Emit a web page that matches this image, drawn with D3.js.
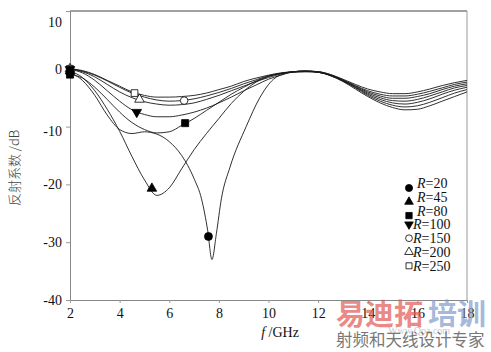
<!DOCTYPE html>
<html lang="zh">
<head>
<meta charset="UTF-8">
<title>反射系数</title>
<script src="https://d3js.org/d3.v7.min.js"></script>
<style>
  body { margin: 0; background: #fff; }
  svg text { font-family: "Liberation Serif", "Times New Roman", serif; }
</style>
</head>
<body>
<svg width="491" height="352"></svg>
<script>
// frequency grid (GHz)
const freq = [2,2.5,3,3.5,4,4.5,5,5.5,6,6.5,7,7.5,8,8.5,9,9.5,10,10.5,11,11.5,12,12.5,13,13.5,14,14.5,15,15.5,16,16.5,17,17.5,18];
// R=20 has a sharp notch, so it gets its own grid
const freq20 = [2,2.5,3,3.5,4,4.5,5,5.5,6,6.5,7,7.3,7.55,7.72,7.9,8.1,8.45,9.1,9.65,10.2,10.7,11,11.5,12,12.5,13,13.5,14,14.5,15,15.5,16,16.5,17,17.5,18];

const r20  = [-0.6,-2.0,-4.6,-8.0,-10.5,-11.2,-10.9,-11.3,-12.6,-15.0,-19.0,-22.5,-28.0,-33.0,-28.5,-22.5,-17.0,-10.0,-5.0,-1.8,-0.8,-0.6,-0.5,-0.6,-1.2,-2.2,-3.5,-4.8,-5.9,-6.7,-7.1,-7.0,-6.4,-5.6,-4.8,-4.0];
const r45  = [-0.4,-1.5,-3.8,-7.0,-10.8,-15.2,-19.2,-21.9,-20.6,-17.3,-14.0,-11.2,-8.6,-6.0,-3.9,-2.3,-1.3,-0.8,-0.6,-0.5,-0.6,-1.2,-2.1,-3.3,-4.6,-5.6,-6.3,-6.6,-6.4,-5.8,-5.0,-4.2,-3.6];
const r80  = [-1.0,-1.6,-3.2,-5.3,-7.5,-9.3,-10.5,-11.1,-10.9,-9.8,-8.6,-7.2,-5.8,-4.4,-3.2,-2.1,-1.3,-0.8,-0.5,-0.4,-0.6,-1.1,-2.1,-3.2,-4.4,-5.3,-5.9,-6.1,-5.8,-5.2,-4.4,-3.7,-3.2];
const r100 = [-0.1,-0.7,-2.0,-3.8,-5.6,-7.1,-7.9,-8.3,-8.3,-8.0,-7.5,-6.8,-5.9,-4.9,-3.8,-2.8,-1.8,-1.1,-0.5,-0.4,-0.6,-1.1,-2.0,-3.1,-4.2,-5.0,-5.5,-5.6,-5.3,-4.7,-4.0,-3.3,-2.9];
const r150 = [0,-0.4,-1.1,-2.1,-3.2,-4.2,-4.9,-5.4,-5.6,-5.5,-5.2,-4.7,-4.1,-3.4,-2.6,-1.9,-1.2,-0.8,-0.5,-0.4,-0.5,-1.0,-1.9,-2.9,-3.8,-4.4,-4.7,-4.7,-4.4,-3.9,-3.3,-2.7,-2.3];
const r200 = [0,-0.5,-1.4,-2.7,-4.0,-5.0,-5.7,-6.1,-6.3,-6.2,-5.9,-5.3,-4.6,-3.8,-3.0,-2.2,-1.5,-0.9,-0.5,-0.4,-0.5,-1.1,-2.0,-3.0,-4.0,-4.7,-5.1,-5.1,-4.8,-4.3,-3.6,-3.0,-2.6];
const r250 = [0,-0.3,-1.0,-2.0,-3.0,-4.0,-4.6,-4.9,-4.9,-4.8,-4.6,-4.2,-3.6,-3.0,-2.2,-1.6,-1.1,-0.7,-0.5,-0.4,-0.5,-1.0,-1.8,-2.7,-3.5,-4.0,-4.3,-4.3,-4.0,-3.5,-2.9,-2.4,-2.0];

const labels = ["20","45","80","100","150","200","250"];
// mid-curve marker positions
const markF  = [7.58, 5.3, 6.64, 4.69, 6.6, 4.8, 4.6];
const markDb = [-29, -20.7, -9.4, -7.5, -5.5, -5.3, -4.2];

const xTicks = [2,4,6,8,10,12,14,16,18];
const yTicks = [10,0,-10,-20,-30,-40];

const series = [
  {f: freq20, v: r20}, {f: freq, v: r45}, {f: freq, v: r80}, {f: freq, v: r100},
  {f: freq, v: r150}, {f: freq, v: r200}, {f: freq, v: r250}
];

const svg = d3.select("svg");
const pLeft = 70, pRight = 467, pTop = 11, pBottom = 300;
const x = d3.scaleLinear([2, 18], [pLeft, pRight]);
const y = d3.scaleLinear([-40, 10], [pBottom, pTop]);

// frame
svg.append("line").attr("x1", pLeft).attr("x2", pRight).attr("y1", pTop).attr("y2", pTop)
  .attr("stroke", "#444").attr("stroke-width", 1);
svg.append("line").attr("x1", pRight).attr("x2", pRight).attr("y1", pTop).attr("y2", pBottom)
  .attr("stroke", "#999").attr("stroke-width", 1);

const gy = svg.append("g").attr("transform", `translate(${pLeft},0)`)
  .call(d3.axisLeft(y).tickValues(yTicks).tickSize(4).tickPadding(4).tickFormat(d => String(d)));
const gx = svg.append("g").attr("transform", `translate(0,${pBottom})`)
  .call(d3.axisBottom(x).tickValues(xTicks).tickSize(3).tickPadding(5));
[gx, gy].forEach(g => {
  g.attr("font-family", null);
  g.select(".domain").attr("stroke", "#888");
  g.selectAll(".tick line").attr("stroke", "#999");
  g.selectAll(".tick text").attr("fill", "#111").style("font-size", "14px")
    .style("font-family", "'Liberation Serif', serif");
});
gy.selectAll(".tick text").filter(d => d === 10).attr("dy", "1.1em");
gy.selectAll(".tick text").filter(d => d === -10).attr("dy", "0.65em");

// curves
const line = d3.line().curve(d3.curveMonotoneX);
series.forEach(s => {
  svg.append("path")
    .attr("d", line(s.f.map((f, i) => [x(f), y(s.v[i])])))
    .attr("fill", "none").attr("stroke", "#1a1a1a").attr("stroke-width", 0.9);
});

// markers
const shapes = [
  {t: d3.symbolCircle, s: 50, fill: "#000", rot: 0},
  {t: d3.symbolTriangle, s: 40, fill: "#000", rot: 0},
  {t: d3.symbolSquare, s: 50, fill: "#000", rot: 0},
  {t: d3.symbolTriangle, s: 40, fill: "#000", rot: 180},
  {t: d3.symbolCircle, s: 45, fill: "#fff", rot: 0},
  {t: d3.symbolTriangle, s: 40, fill: "#fff", rot: 0},
  {t: d3.symbolSquare, s: 45, fill: "#fff", rot: 0}
];
function drawMarker(i, px, py, scale) {
  const sh = shapes[i];
  svg.append("path")
    .attr("d", d3.symbol(sh.t, sh.s * scale)())
    .attr("transform", `translate(${px},${py}) rotate(${sh.rot})`)
    .attr("fill", sh.fill).attr("stroke", "#000").attr("stroke-width", 0.8);
}
for (let i = series.length - 1; i >= 0; i--) {
  drawMarker(i, x(series[i].f[0]), y(series[i].v[0]), 1);
  drawMarker(i, x(markF[i]), y(markDb[i]), 1);
}

// legend
labels.forEach((lab, i) => {
  const ry = 183 + i * 13.8;
  drawMarker(i, 409, ry + (i < 3 ? 5 : 0), 0.8);
  const t = svg.append("text").attr("x", i < 3 ? 417 : 413).attr("y", ry + 5)
    .style("font-size", "14px").attr("fill", "#111");
  t.append("tspan").style("font-style", "italic").text("R");
  t.append("tspan").text("=" + lab);
});

// axis titles
const xt = svg.append("text").attr("x", 280).attr("y", 337).attr("text-anchor", "middle")
  .style("font-size", "14px").attr("fill", "#111");
xt.append("tspan").style("font-style", "italic").text("f");
xt.append("tspan").text(" /GHz");

svg.append("text").attr("transform", "translate(19,168) rotate(-90)")
  .attr("text-anchor", "middle").style("font-size", "13px").attr("fill", "#444")
  .style("font-family", "'Noto Sans CJK SC', sans-serif").style("font-weight", 300)
  .text("反射系数 /dB");

// watermark
svg.append("text").attr("x", 336).attr("y", 325)
  .style("font-family", "'Noto Sans CJK SC', sans-serif").style("font-weight", 700)
  .style("font-size", "29px").attr("fill", "#e05a55").attr("opacity", 0.7).text("易迪拓");
svg.append("text").attr("x", 428).attr("y", 325)
  .style("font-family", "'Noto Sans CJK SC', sans-serif").style("font-weight", 700)
  .style("font-size", "29px").attr("fill", "#7f9ccc").attr("opacity", 0.7).text("培训");
svg.append("text").attr("x", 388).attr("y", 334)
  .style("font-size", "10px").attr("fill", "#ccc").text("Www.Qpa.com");
svg.append("text").attr("x", 336).attr("y", 346)
  .style("font-family", "'Noto Sans CJK SC', sans-serif")
  .style("font-size", "16.5px").attr("fill", "#777").text("射频和天线设计专家");
</script>
</body>
</html>
